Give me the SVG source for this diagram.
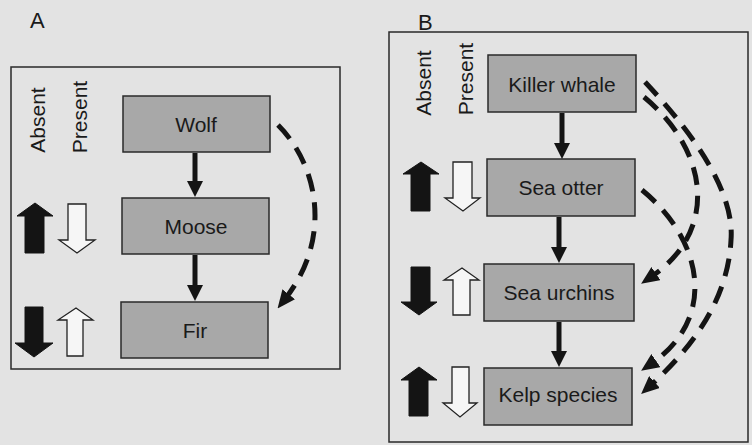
<svg xmlns="http://www.w3.org/2000/svg" width="752" height="445" viewBox="0 0 752 445">
  <style>
    .panel{fill:none;stroke:#2a2a2a;stroke-width:1.5}
    .box{fill:#a8a8a8;stroke:#2a2a2a;stroke-width:1.5}
    .lbl{font-family:"Liberation Sans",Arial,sans-serif;font-size:21px;fill:#1a1a1a;text-anchor:middle}
    .plbl{font-family:"Liberation Sans",Arial,sans-serif;font-size:22px;fill:#1a1a1a}
    .blk{fill:#141414;stroke:#141414;stroke-width:1}
    .wht{fill:#f6f6f6;stroke:#222;stroke-width:1.3}
    .solid{stroke:#141414;stroke-width:5;fill:none;marker-end:url(#ah)}
    .dash{stroke:#141414;stroke-width:5;fill:none;stroke-dasharray:18 11;marker-end:url(#dh)}
  </style>
  <defs>
    <marker id="ah" markerUnits="userSpaceOnUse" markerWidth="16" markerHeight="16" refX="4" refY="8" orient="auto">
      <path d="M0,0 L16,8 L0,16 z" fill="#141414"/>
    </marker>
    <marker id="dh" markerUnits="userSpaceOnUse" markerWidth="18" markerHeight="16" refX="6" refY="8" orient="auto">
      <path d="M0,0 L18,8 L0,16 z" fill="#141414"/>
    </marker>
  </defs>
  <rect x="0" y="0" width="752" height="445" fill="#e3e3e3"/>

  <!-- Panel A -->
  <g id="panelA">
    <text class="plbl" x="30" y="28">A</text>
    <rect class="panel" x="11" y="67" width="329" height="302"/>
    <text class="lbl" transform="translate(45,120) rotate(-90)">Absent</text>
    <text class="lbl" transform="translate(87,117) rotate(-90)">Present</text>
  </g>
  <g id="wolf">
    <rect class="box" x="123" y="96" width="147" height="56"/>
    <text class="lbl" x="196" y="132">Wolf</text>
  </g>
  <g id="moose">
    <rect class="box" x="122" y="198" width="147" height="56"/>
    <text class="lbl" x="196" y="234">Moose</text>
  </g>
  <g id="fir">
    <rect class="box" x="121" y="302" width="147" height="56"/>
    <text class="lbl" x="195" y="338">Fir</text>
  </g>
  <g id="arrowsA">
    <polygon class="blk" points="35,203 53,216 44,216 44,253 25,253 25,216 17,216"/>
    <polygon class="wht" points="68,204 86,204 86,240 95,240 77,253 59,240 68,240"/>
    <polygon class="blk" points="25,307 43,307 43,343 53,343 34,357 15,343 25,343"/>
    <polygon class="wht" points="76,308 93,320 83,320 83,356 67,356 67,320 58,320"/>
  </g>

  <!-- Panel B -->
  <g id="panelB">
    <text class="plbl" x="418" y="30">B</text>
    <rect class="panel" x="389" y="32" width="359" height="410"/>
    <text class="lbl" transform="translate(431,83) rotate(-90)">Absent</text>
    <text class="lbl" transform="translate(473,79) rotate(-90)">Present</text>
  </g>
  <g id="killerwhale">
    <rect class="box" x="488" y="55" width="148" height="57"/>
    <text class="lbl" x="562" y="92">Killer whale</text>
  </g>
  <g id="seaotter">
    <rect class="box" x="487" y="159" width="148" height="57"/>
    <text class="lbl" x="561" y="195">Sea otter</text>
  </g>
  <g id="seaurchins">
    <rect class="box" x="484" y="264" width="150" height="57"/>
    <text class="lbl" x="559" y="300">Sea urchins</text>
  </g>
  <g id="kelp">
    <rect class="box" x="484" y="368" width="148" height="57"/>
    <text class="lbl" x="558" y="402">Kelp species</text>
  </g>
  <g id="arrowsB">
    <polygon class="blk" points="421,162 439,174 430,174 430,211 411,211 411,174 403,174"/>
    <polygon class="wht" points="453,162 472,162 472,198 480,198 463,211 445,198 453,198"/>
    <polygon class="blk" points="411,267 430,267 430,302 437,302 419,315 401,302 411,302"/>
    <polygon class="wht" points="462,268 479,280 470,280 470,315 453,315 453,280 444,280"/>
    <polygon class="blk" points="419,367 437,380 428,380 428,416 409,416 409,380 401,380"/>
    <polygon class="wht" points="452,367 469,367 469,403 477,403 460,417 443,403 452,403"/>
  </g>

  <!-- Connectors -->
  <g id="connectors">
    <path class="solid" d="M195,153 L195,185"/>
    <path class="solid" d="M195,255 L195,289"/>
    <path class="dash" d="M278,125 C318,165 333,238 285,299"/>
    <path class="solid" d="M562,113 L562,147"/>
    <path class="solid" d="M559,217 L559,251"/>
    <path class="solid" d="M559,322 L559,355"/>
    <path class="dash" d="M645,82 C690,130 735,190 731,240 C728,300 692,348 650,386"/>
    <path class="dash" d="M644,97 C708,150 720,230 651,277"/>
    <path class="dash" d="M642,190 C703,240 718,318 651,364"/>
  </g>
</svg>
